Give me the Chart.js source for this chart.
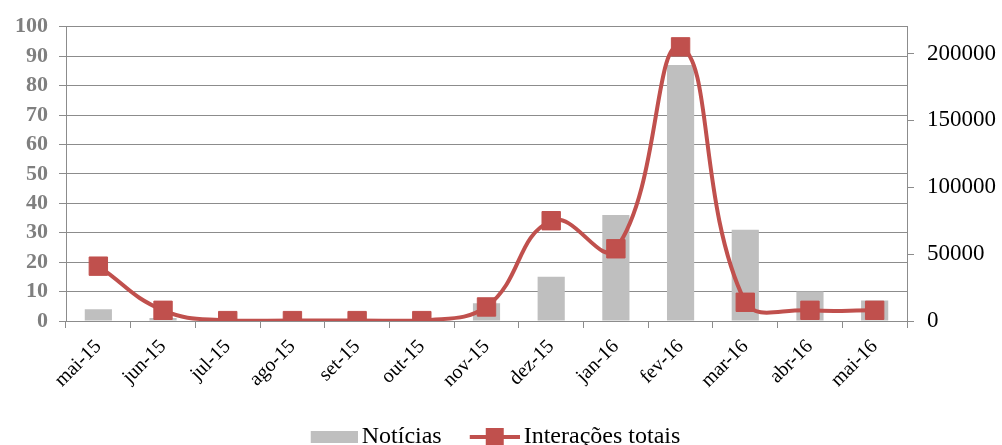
<!DOCTYPE html>
<html>
<head>
<meta charset="utf-8">
<script src="https://cdn.jsdelivr.net/npm/chart.js@4"></script>
<style>
  html, body { margin: 0; padding: 0; background: #fff; }
  #wrap { width: 1002px; height: 445px; position: relative; }
</style>
</head>
<body>
<div id="wrap"><canvas id="chart"></canvas></div>
<script>
const months = ['mai-15', 'jun-15', 'jul-15', 'ago-15', 'set-15', 'out-15', 'nov-15',
    'dez-15', 'jan-16', 'fev-16', 'mar-16', 'abr-16', 'mai-16'];
const noticias = [4, 1, 0, 0, 0, 0, 6, 15, 36, 87, 31, 10, 7];
const interacoes = [41000, 8000, 300, 300, 300, 300, 10500, 75000, 54000, 205000, 14000, 8000, 8000];
const rightTicks = [0, 50000, 100000, 150000, 200000];

const GRAY = '#bfbfbf';
const RED = '#c0504d';
const GRID = '#8c8c8c';
const ICON_W = 50;
const SHIFT = 8; // pushes the icon toward its text

// legend icons: gray box, and a line crossed by a square marker
function barIcon() {
    const c = document.createElement('canvas');
    c.width = ICON_W + 2 * SHIFT; c.height = 12;
    const g = c.getContext('2d');
    g.fillStyle = GRAY;
    g.fillRect(c.width - 47, 0, 47, 12);
    return c;
}
function lineIcon() {
    const c = document.createElement('canvas');
    c.width = ICON_W + 2 * SHIFT; c.height = 18;
    const g = c.getContext('2d');
    g.fillStyle = RED;
    g.fillRect(2 * SHIFT, 7, ICON_W, 4);
    g.fillRect(2 * SHIFT + 16, 0, 18, 18);
    return c;
}

// the legend sits a little left of the canvas centre
const legendNudge = {
    id: 'legendNudge',
    afterLayout(chart) {
        chart.legend.left -= 11;
        chart.legend.right -= 11;
    }
};

const ctx = document.getElementById('chart').getContext('2d');

new Chart(ctx, {
    data: {
        labels: months,
        datasets: [{
            type: 'line',
            label: 'Interações totais',
            data: interacoes,
            yAxisID: 'y2',
            borderColor: RED,
            backgroundColor: RED,
            borderWidth: 4,
            tension: 0.45,
            pointStyle: 'rect',
            pointRadius: 13,
            pointBackgroundColor: RED,
            pointBorderColor: RED,
            pointBorderWidth: 1,
            order: 0
        }, {
            type: 'bar',
            label: 'Notícias',
            data: noticias,
            yAxisID: 'y',
            backgroundColor: GRAY,
            categoryPercentage: 1,
            barPercentage: 0.42,
            order: 1
        }]
    },
    options: {
        responsive: true,
        maintainAspectRatio: false,
        animation: false,
        layout: { padding: { top: 12, left: 0, right: 0, bottom: -14 } },
        scales: {
            x: {
                offset: true,
                grid: { display: true, drawOnChartArea: false, offset: true, tickLength: 7, color: GRID },
                border: { color: GRID },
                ticks: {
                    color: '#000',
                    font: { family: 'Liberation Serif', size: 20 },
                    minRotation: 45, maxRotation: 45, padding: 7
                },
                afterFit(scale) { scale.height = 84; }
            },
            y: {
                position: 'left',
                min: 0, max: 100,
                ticks: {
                    stepSize: 10,
                    color: '#7f7f7f',
                    font: { family: 'Liberation Serif', size: 22, weight: 'bold' },
                    padding: 11
                },
                grid: { color: GRID, tickLength: 7 },
                border: { color: GRID },
                afterFit(scale) { scale.width = 66; }
            },
            y2: {
                position: 'right',
                min: 0, max: 220000,
                afterBuildTicks(scale) { scale.ticks = rightTicks.map(v => ({ value: v })); },
                ticks: {
                    color: '#000',
                    font: { family: 'Liberation Serif', size: 23 },
                    padding: 13,
                    callback: v => String(v)
                },
                grid: { drawOnChartArea: false, color: GRID, tickLength: 7 },
                border: { color: GRID },
                afterFit(scale) { scale.width = 95; }
            }
        },
        plugins: {
            legend: {
                position: 'bottom',
                reverse: true,
                labels: {
                    usePointStyle: true,
                    pointStyleWidth: ICON_W,
                    color: '#000',
                    font: { family: 'Liberation Serif', size: 24 },
                    padding: 20,
                    generateLabels(chart) {
                        return chart.data.datasets.map((ds, i) => ({
                            text: ds.label,
                            datasetIndex: i,
                            pointStyle: ds.type === 'bar' ? barIcon() : lineIcon(),
                            fontColor: '#000',
                            hidden: false,
                            lineWidth: 0
                        }));
                    }
                }
            },
            tooltip: { enabled: false }
        }
    },
    plugins: [legendNudge]
});
</script>
</body>
</html>
